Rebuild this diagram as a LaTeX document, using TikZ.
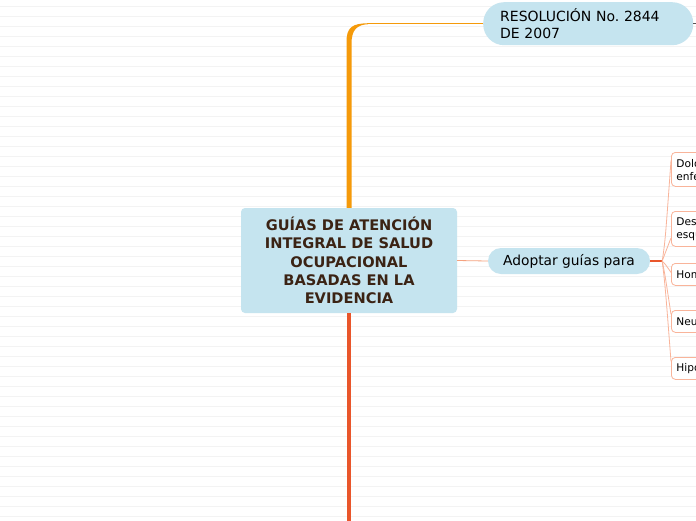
\documentclass[tikz,border=0pt]{standalone}
\usepackage{fontspec}
\setmainfont{DejaVu Sans}
\usetikzlibrary{calc}
\definecolor{nodeblue}{HTML}{C5E4EF}
\definecolor{darkbrown}{HTML}{3B2314}
\definecolor{branchorange}{HTML}{F59A0A}
\definecolor{branchred}{HTML}{E9562B}
\definecolor{salmon}{HTML}{F5A27F}
\definecolor{lightsalmon}{HTML}{F9B49A}
\definecolor{ruleline}{HTML}{F3F3F3}
\definecolor{tickgrey}{HTML}{555555}
\begin{document}
\begin{tikzpicture}[x=1pt,y=-1pt,
  centerbox/.style={fill=nodeblue, rounded corners=4pt, minimum width=216pt, minimum height=105pt,
    align=center, inner sep=0pt, text=darkbrown, font=\fontsize{14.6}{18.3}\selectfont\bfseries},
  topbox/.style={fill=nodeblue, rounded corners=21pt, minimum height=43pt, text width=176pt,
    inner xsep=17pt, inner ysep=0pt, align=left, text=black, font=\fontsize{14}{17}\selectfont},
  pillbox/.style={fill=nodeblue, rounded corners=13pt, minimum width=162pt, minimum height=26pt,
    inner sep=0pt, text=black, font=\fontsize{13.8}{16}\selectfont},
  childbox/.style={draw=lightsalmon, line width=0.8pt, fill=white, rounded corners=4pt,
    inner xsep=5pt, inner ysep=0pt, align=left, text=black, font=\fontsize{10.6}{13}\selectfont},
  thinlink/.style={draw=salmon, line width=0.8pt},
  childlink/.style={draw=lightsalmon, line width=0.8pt}]
\useasboundingbox (0,0) rectangle (696,520);
\clip (0,0) rectangle (696,520);
\fill[white] (0,0) rectangle (696,520);
\foreach \yy in {6,16,...,516} \draw[ruleline, line width=0.8pt] (0,\yy) -- (696,\yy);

% nodes
\node[centerbox] (center) at (349,260.5) {GUÍAS DE ATENCIÓN\\INTEGRAL DE SALUD\\OCUPACIONAL\\BASADAS EN LA\\EVIDENCIA};
\node[topbox, anchor=north west] (top) at (483,2) {RESOLUCIÓN No.\ 2844\\DE 2007};
\node[pillbox] (adopt) at (569,261) {Adoptar guías para};

\node[childbox, anchor=north west, minimum height=34pt] (c1) at (671,152)
  {Dolor lumbar inespecífico y\\enfermedad discal};
\node[childbox, anchor=north west, minimum height=35pt] (c2) at (671,211)
  {Desórdenes músculo-\\esqueléticos};
\node[childbox, anchor=north west, minimum height=22pt] (c3) at (671,263) {Hombro doloroso};
\node[childbox, anchor=north west, minimum height=22pt] (c4) at (671,310) {Neumoconiosis};
\node[childbox, anchor=north west, minimum height=22pt] (c5) at (671,357) {Hipoacusia neurosensorial};

% main orange branch to the top node
\coordinate (corner) at (center.north |- top.west);
\fill[branchorange]
  ([xshift=-2.5pt]center.north) -- ([shift={(-2.5,18)}]corner)
  .. controls ([shift={(-2.5,4)}]corner) and ([shift={(3,-0.4)}]corner) .. ([shift={(19,-0.4)}]corner)
  -- ([shift={(19,0.5)}]corner)
  .. controls ([shift={(8,1)}]corner) and ([shift={(2.5,6)}]corner) .. ([shift={(2.5,20)}]corner)
  -- ([xshift=2.5pt]center.north) -- cycle;
\draw[branchorange, line width=0.8pt] ([xshift=18pt]corner) -- (top.west);
\coordinate (topout) at ([xshift=8pt]top.east);
\draw[tickgrey, line width=0.8pt] (top.east) -- (topout);

% red branch going down
\coordinate (bottomend) at (center.south |- 0,525);
\draw[branchred, line width=4.5pt] (center.south) -- (bottomend);

% link to Adoptar
\draw[thinlink] (center.east) -- (adopt.west);
\coordinate (fork) at ([xshift=12pt]adopt.east);
\draw[branchred, line width=1.2pt] (adopt.east) -- (fork);

\draw[childlink] (fork) .. controls ([shift={(3,-20)}]fork) .. ([yshift=9pt]c1.west);
\draw[childlink] (fork) .. controls ([shift={(3,-8)}]fork) .. ([yshift=-9pt]c2.west);
\draw[childlink] (fork) .. controls ([shift={(3,3)}]fork) .. ([yshift=2pt]c3.west);
\draw[childlink] (fork) .. controls ([shift={(3,15)}]fork) .. ([yshift=7pt]c4.west);
\draw[childlink] (fork) .. controls ([shift={(3,25)}]fork) .. ([yshift=7pt]c5.west);
\end{tikzpicture}
\end{document}
